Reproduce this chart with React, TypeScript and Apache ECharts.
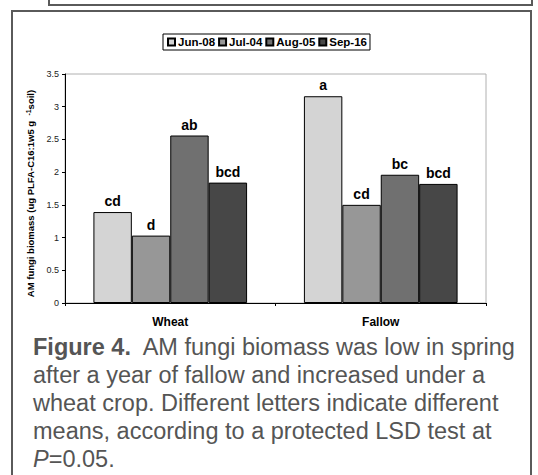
import React, { useEffect, useRef } from "react";
import * as echarts from "echarts";

const categories = ["Wheat", "Fallow"];
const seriesNames = ["Jun-08", "Jul-04", "Aug-05", "Sep-16"];
const jun = [1.39, 3.16];
const jul = [1.03, 1.5];
const aug = [2.56, 1.96];
const sep = [1.84, 1.82];
const junLetters = ["cd", "a"];
const julLetters = ["d", "cd"];
const augLetters = ["ab", "bc"];
const sepLetters = ["bcd", "bcd"];
const yTicks = ["0", "0.5", "1", "1.5", "2", "2.5", "3", "3.5"];
const captionLines = [
  "{b|Figure 4.}  AM fungi biomass was low in spring",
  "after a year of fallow and increased under a",
  "wheat crop. Different letters indicate different",
  "means, according to a protected LSD test at",
  "{i|P}=0.05.",
];

const FONT = "'Liberation Sans', Arial, sans-serif";
const colors = ["#d4d4d4", "#979797", "#707070", "#474747"];

export default function App() {
  const ref = useRef<HTMLDivElement>(null);
  useEffect(() => {
    if (!ref.current) return;
    const chart = echarts.init(ref.current, null, { renderer: "svg" });
    const values = [jun, jul, aug, sep];
    const letters = [junLetters, julLetters, augLetters, sepLetters];
    const capFs = 23.5;
    const baselines = [355, 383, 411, 439, 467];
    chart.setOption({
      animation: false,
      backgroundColor: "#ffffff",
      textStyle: { fontFamily: FONT },
      legend: {
        data: seriesNames,
        left: 163,
        top: 34,
        itemWidth: 7,
        itemHeight: 7,
        itemGap: 3,
        padding: [2, 3, 2, 4],
        borderColor: "#000",
        borderWidth: 1,
        icon: "rect",
        textStyle: { fontFamily: FONT, fontSize: 11.5, fontWeight: "bold", color: "#000", padding: [0, 0, 0, -2] },
      },
      grid: {
        left: 65,
        top: 74,
        right: 52,
        bottom: 172,
        show: true,
        borderColor: "#b0b0b0",
        borderWidth: 1,
        containLabel: false,
      },
      xAxis: {
        type: "category",
        data: categories,
        axisLine: { lineStyle: { color: "#000", width: 1 } },
        axisTick: { show: true, length: 3, lineStyle: { color: "#000" } },
        axisLabel: { fontFamily: FONT, fontSize: 12, fontWeight: "bold", color: "#000", margin: 13 },
      },
      yAxis: {
        type: "value",
        min: 0,
        max: 3.5,
        interval: 0.5,
        splitLine: { show: false },
        axisLine: { show: true, lineStyle: { color: "#000", width: 1 } },
        axisTick: { show: true, length: 3, lineStyle: { color: "#000" } },
        axisLabel: {
          fontFamily: FONT,
          fontSize: 9,
          color: "#222",
          margin: 6,
          formatter: (v: number) => yTicks[Math.round(v / 0.5)] ?? String(v),
        },
        name: "AM fungi biomass (ug PLFA-C16:1w5 g  {s|-1}soil)",
        nameLocation: "middle",
        nameRotate: 90,
        nameGap: 28,
        nameTextStyle: {
          fontFamily: FONT,
          fontSize: 9.5,
          fontWeight: "bold",
          color: "#000",
          padding: [0, 10, 0, 0],
          rich: {
            s: { fontFamily: FONT, fontSize: 7, fontWeight: "bold", color: "#000", verticalAlign: "top", padding: [0, 0, 5, 0] },
          },
        },
      },
      series: seriesNames.map((name, i) => ({
        name,
        type: "bar",
        data: values[i],
        barGap: "0%",
        barCategoryGap: "27%",
        itemStyle: { color: colors[i], borderColor: "#000", borderWidth: 1 },
        label: {
          show: true,
          position: "top",
          distance: 4,
          fontFamily: FONT,
          fontSize: 14,
          fontWeight: "bold",
          color: "#000",
          formatter: (p: any) => letters[i][p.dataIndex],
        },
      })),
      graphic: [
        {
          type: "rect",
          shape: { x: 49, y: -10, width: 483, height: 15 },
          style: { fill: "none", stroke: "#5a5a5a", lineWidth: 2 },
          silent: true,
        },
        {
          type: "rect",
          shape: { x: 12, y: 11, width: 519, height: 480 },
          style: { fill: "none", stroke: "#5a5a5a", lineWidth: 2 },
          silent: true,
        },
        ...captionLines.map((line, k) => ({
          type: "text",
          x: 33,
          y: baselines[k] - 8,
          style: {
            text: line,
            fontFamily: FONT,
            fontSize: capFs,
            fill: "#555",
            verticalAlign: "middle",
            align: "left",
            rich: {
              b: { fontFamily: FONT, fontSize: capFs, fontWeight: "bold", fill: "#555" },
              i: { fontFamily: FONT, fontSize: capFs, fontStyle: "italic", fill: "#555" },
            },
          },
        })),
      ],
    });
    return () => chart.dispose();
  }, []);
  return (
    <div style={{ position: "fixed", left: 0, top: 0, width: 538, height: 475, background: "#fff" }}>
      <div ref={ref} style={{ width: 538, height: 475 }} />
    </div>
  );
}
